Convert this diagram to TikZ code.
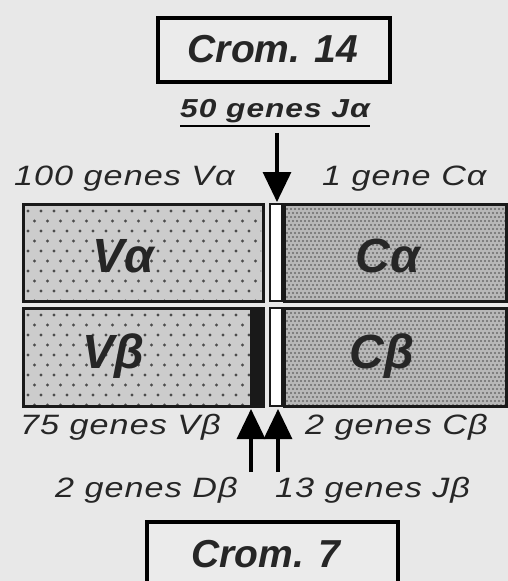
\documentclass[tikz,border=0pt]{standalone}
\usepackage{fontspec}
\setmainfont{Liberation Sans}
\newfontfamily\lblfont[LetterSpace=3]{Liberation Sans}
\usetikzlibrary{arrows.meta}
\newcommand{\wide}[1]{\scalebox{1.22}[1]{#1}}
\begin{document}
\begin{tikzpicture}[x=1pt,y=-1pt,
  chrom/.style={draw=black,line width=3.5pt,fill=white!92!black},
  chromtxt/.style={font=\fontsize{39}{41}\selectfont\bfseries\itshape,text=black!85},
  lbl/.style={font=\lblfont\fontsize{28}{30}\selectfont\itshape,inner sep=0pt,text=black!85},
  big/.style={font=\fontsize{48}{50}\selectfont\bfseries\itshape,text=black!85},
  vbox/.style={draw=black!90,line width=3pt,fill=black!20},
  cbox/.style={draw=black!90,line width=3pt},
  strip/.style={draw=black!90,line width=2pt,fill=white},
  arr/.style={line width=3.2pt,-{Triangle[length=30pt,width=28pt]}}
]
\useasboundingbox (0,0) rectangle (508,581);
\fill[black!9] (0,0) rectangle (508,581);

% chromosome 14
\draw[chrom] (158,18) rectangle (390,82);
\node[chromtxt] (c14) at (273,49) {Crom. 14};
\node[font=\lblfont\fontsize{26}{28}\selectfont\bfseries\itshape,inner sep=0pt,text=black!85] (ja) at (275,111) {\wide{50 genes Jα}};
\draw[line width=1.8pt] (ja.south west) ++(0,3) coordinate (ul1) -- (ja.south east |- ul1) coordinate (ul2);

% labels top
\node[lbl,anchor=west] (va) at (14,179) {\wide{100 genes Vα}};
\node[lbl,anchor=west] (ca) at (322,179) {\wide{1 gene Cα}};

% top row
\draw[vbox] (23,204) rectangle (263,301);
\begin{scope}
\clip (25,206) rectangle (261,299);
\foreach \r in {0,...,9} {
  \foreach \c in {0,...,19} {
    \pgfmathsetmacro\xx{28+\c*13+mod(\r,2)*6.5}
    \fill[black!70] (\xx,{211+\r*10}) circle (1.6pt);
  }
}
\end{scope}
\draw[strip] (270,204) rectangle (282,301);
\fill[black!28] (284,204) rectangle (506,301);
\begin{scope}
\clip (284,204) rectangle (506,301);
\foreach \r in {0,...,24} {
  \foreach \c in {0,...,56} {
    \pgfmathsetmacro\xx{285+\c*4+mod(\r,2)*2}
    \fill[black!58] (\xx,{205+\r*4}) circle (1.1pt);
  }
}
\end{scope}
\draw[cbox] (284,204) rectangle (506,301);
\node[big] (vat) at (123,256) {Vα};
\node[big] (cat) at (388,256) {Cα};

% bottom row
\draw[vbox] (23,308) rectangle (263,406);
\begin{scope}
\clip (25,310) rectangle (261,404);
\foreach \r in {0,...,9} {
  \foreach \c in {0,...,19} {
    \pgfmathsetmacro\xx{28+\c*13+mod(\r,2)*6.5}
    \fill[black!70] (\xx,{315+\r*10}) circle (1.6pt);
  }
}
\end{scope}
\fill[black!90] (250,308) rectangle (264,406);
\draw[strip] (270,308) rectangle (282,406);
\fill[black!28] (284,308) rectangle (506,406);
\begin{scope}
\clip (284,308) rectangle (506,406);
\foreach \r in {0,...,25} {
  \foreach \c in {0,...,56} {
    \pgfmathsetmacro\xx{285+\c*4+mod(\r,2)*2}
    \fill[black!58] (\xx,{309+\r*4}) circle (1.1pt);
  }
}
\end{scope}
\draw[cbox] (284,308) rectangle (506,406);
\node[big] (vbt) at (113,356) {Vβ};
\node[big] (cbt) at (382,356) {Cβ};

% arrows
\coordinate (tipa) at (277,202);
\draw[arr] (ja.south -| tipa) ++(0,10) coordinate (sa) -- (tipa);

\node[lbl,anchor=west] (vb) at (20,427) {\wide{75 genes Vβ}};
\node[lbl,anchor=west] (cb) at (305,427) {\wide{2 genes Cβ}};
\node[lbl,anchor=west] (db) at (55,490) {\wide{2 genes Dβ}};
\node[lbl,anchor=west] (jb) at (275,490) {\wide{13 genes Jβ}};

\coordinate (tipd) at (251,409);
\coordinate (tipj) at (278,409);
\coordinate (sd) at (251,472);
\coordinate (sj) at (278,472);
\draw[arr] (sd) -- (tipd);
\draw[arr] (sj) -- (tipj);

% chromosome 7
\draw[chrom] (147,522) rectangle (398,592);
\node[chromtxt] (c7) at (266,554) {Crom. 7};
\end{tikzpicture}
\end{document}
